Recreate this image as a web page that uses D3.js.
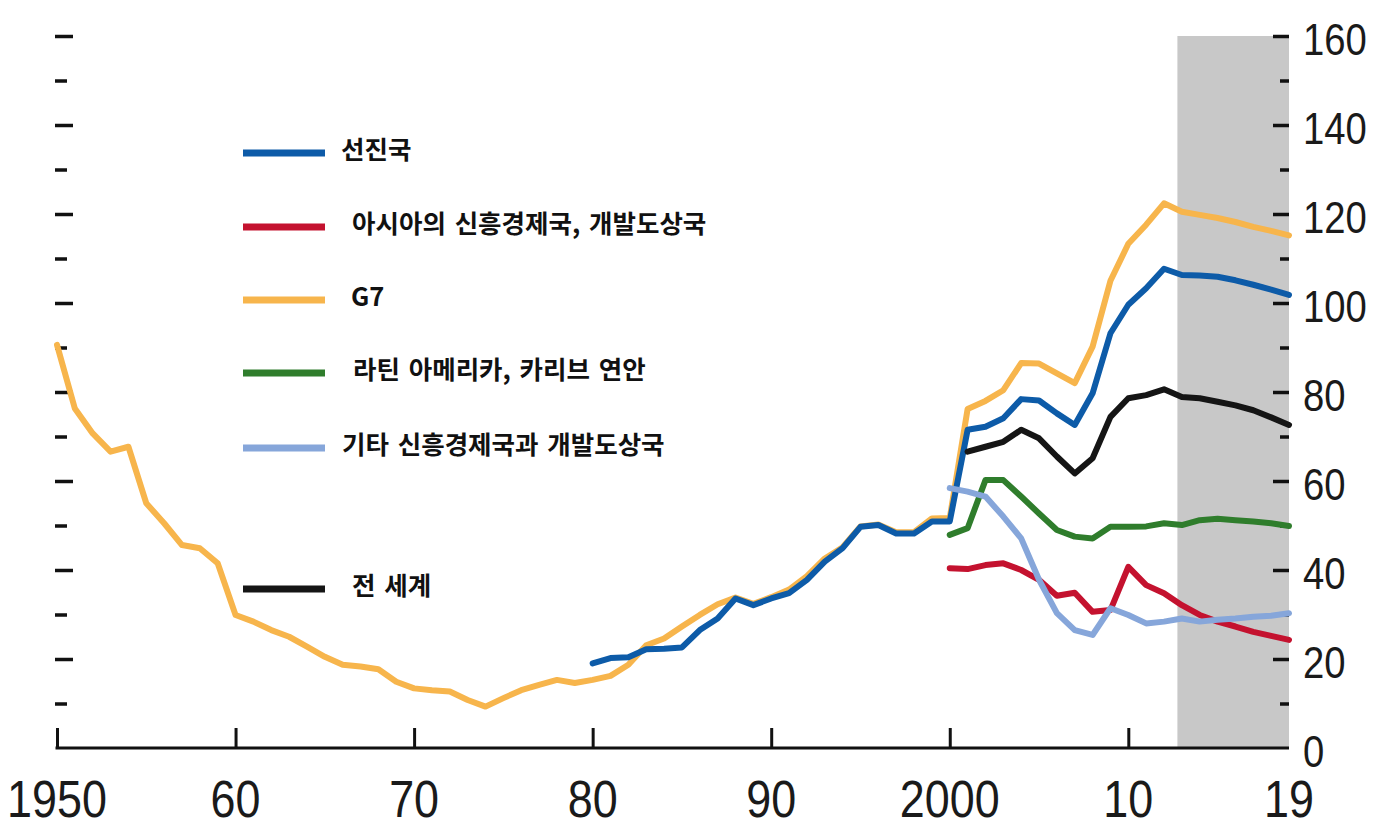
<!DOCTYPE html>
<html>
<head>
<meta charset="utf-8">
<script src="https://cdn.jsdelivr.net/npm/d3@7"></script>
<style>
  html, body { margin: 0; padding: 0; background: #fff; }
  svg { display: block; }
</style>
</head>
<body>
<svg id="chart" width="1387" height="829"></svg>
<script>
// ---------------- DATA ----------------
const g7Start = 1950;
const g7Values = [
  90.6, 76.3, 70.7, 66.6, 67.7, 55.0, 50.5, 45.6, 44.9, 41.5,
  29.9, 28.4, 26.5, 25.0, 22.8, 20.5, 18.7, 18.3, 17.7, 14.9,
  13.4, 13.0, 12.7, 10.8, 9.3, 11.2, 13.0, 14.2, 15.3, 14.6,
  15.3, 16.2, 18.7, 23.1, 24.6, 27.3, 29.9, 32.3, 33.8, 32.4,
  33.9, 35.6, 38.6, 42.6, 45.1, 49.8, 50.2, 48.5, 48.5, 51.6,
  51.7, 76.2, 78.0, 80.4, 86.5, 86.4, 84.2, 82.0, 90.2, 105.0,
  113.3, 117.6, 122.4, 120.5, 119.8, 119.1, 118.2, 117.1, 116.2, 115.2
];
const advStart = 1980;
const advValues = [
  19.0, 20.2, 20.4, 22.2, 22.3, 22.6, 26.5, 29.1, 33.6, 32.1,
  33.6, 34.8, 37.8, 41.9, 44.9, 49.7, 50.1, 48.2, 48.2, 50.9,
  50.9, 71.5, 72.2, 74.1, 78.4, 78.1, 75.2, 72.6, 79.7, 93.2,
  99.6, 103.3, 107.7, 106.3, 106.2, 105.9, 105.1, 104.1, 103.0, 101.8
];
const worldStart = 2001;
const worldValues = [
  66.6, 67.7, 68.8, 71.5, 69.6, 65.5, 61.7, 65.1, 74.4,
  78.6, 79.3, 80.6, 78.9, 78.6, 77.8, 77.0, 75.9, 74.3, 72.6
];
const latamStart = 2000;
const latamValues = [
  47.9, 49.4, 60.2, 60.2, 56.5, 52.7, 49.0, 47.5, 47.1, 49.7,
  49.7, 49.8, 50.5, 50.1, 51.2, 51.5, 51.2, 50.9, 50.5, 49.9
];
const asiaStart = 2000;
const asiaValues = [
  40.4, 40.2, 41.1, 41.5, 40.0, 37.8, 34.2, 34.9, 30.6, 31.0,
  40.7, 36.6, 34.8, 32.1, 29.9, 28.4, 27.3, 26.1, 25.2, 24.3
];
const otherStart = 2000;
const otherValues = [
  58.4, 57.6, 56.5, 52.0, 47.1, 37.8, 30.3, 26.5, 25.4, 31.4,
  29.9, 28.0, 28.4, 29.1, 28.4, 28.8, 29.1, 29.5, 29.7, 30.3
];
const projectionStart = 2012.75;
const projectionEnd = 2019;

const xTickValues = [1950, 1960, 1970, 1980, 1990, 2000, 2010, 2019];
const xTickLabels = ["1950", "60", "70", "80", "90", "2000", "10", "19"];
const yTickLabels = [0, 20, 40, 60, 80, 100, 120, 140, 160];

const legendNames = ["선진국", "아시아의 신흥경제국, 개발도상국", "G7", "라틴 아메리카, 카리브 연안", "기타 신흥경제국과 개발도상국", "전 세계"];

// ---------------- STYLE / LAYOUT ----------------
const colors = {
  adv: "#0d5ba8", asia: "#c4122f", g7: "#f7b54c",
  latam: "#2f7d2c", other: "#86a6da", world: "#151515"
};
const plotLeft = 57, plotRight = 1289, plotTop = 36, plotBottom = 748;
const numFont = "'Liberation Sans', Arial, sans-serif";

const svg = d3.select("#chart");
const x = d3.scaleLinear().domain([1950, 2019]).range([plotLeft, plotRight]);
const y = d3.scaleLinear().domain([0, 160]).range([plotBottom, plotTop]);

const toSeries = (start, vals) => vals.map((v, i) => ({ year: start + i, value: v }));

// projection shading
svg.append("rect")
  .attr("x", x(projectionStart))
  .attr("y", y(160))
  .attr("width", x(projectionEnd) - x(projectionStart))
  .attr("height", y(0) - y(160))
  .attr("fill", "#c8c8c8");

// left ticks (no labels)
const leftAxis = d3.axisRight(y).tickValues(d3.range(10, 161, 10)).tickFormat("").tickSizeOuter(0);
const gl = svg.append("g").attr("transform", `translate(${plotLeft - 2},0)`).call(leftAxis);
gl.select(".domain").remove();
gl.selectAll(".tick line")
  .attr("x2", d => (d % 20 === 0 ? 18 : 12))
  .attr("stroke", "#111").attr("stroke-width", 3.5);

// right ticks + labels
const rightAxis = d3.axisLeft(y).tickValues(d3.range(10, 161, 10)).tickFormat("").tickSizeOuter(0);
const gr = svg.append("g").attr("transform", `translate(${plotRight},0)`).call(rightAxis);
gr.select(".domain").remove();
gr.selectAll(".tick line")
  .attr("x2", d => (d % 20 === 0 ? -16 : -9))
  .attr("stroke", "#111").attr("stroke-width", 3.5);

const rightScaleX = 0.85;
svg.append("g").attr("transform", `translate(1303,0) scale(${rightScaleX},1)`)
  .selectAll("text").data(yTickLabels).join("text")
  .attr("x", 0)
  .attr("y", d => y(d) + 3)
  .attr("dominant-baseline", "central")
  .attr("font-family", numFont)
  .attr("font-size", 45)
  .attr("fill", "#1a1a1a")
  .text(d => d);

// bottom axis
const bottomAxis = d3.axisTop(x).tickValues(xTickValues.slice(0, 7)).tickFormat("").tickSize(20).tickSizeOuter(0);
const gb = svg.append("g").attr("transform", `translate(0,${plotBottom})`).call(bottomAxis);
gb.select(".domain").attr("stroke", "#111").attr("stroke-width", 3).attr("d", `M${plotLeft - 1.5},0H${plotRight}`);
gb.selectAll(".tick line").attr("stroke", "#111").attr("stroke-width", 3);

const bottomScaleX = 0.88;
svg.append("g").attr("transform", `scale(${bottomScaleX},1)`)
  .selectAll("text").data(xTickValues).join("text")
  .attr("x", d => x(d) / bottomScaleX)
  .attr("y", 817)
  .attr("text-anchor", "middle")
  .attr("font-family", numFont)
  .attr("font-size", 51)
  .attr("fill", "#1a1a1a")
  .text((d, i) => xTickLabels[i]);

// lines
const line = d3.line().x(d => x(d.year)).y(d => y(d.value));
const series = [
  { key: "g7", data: toSeries(g7Start, g7Values) },
  { key: "adv", data: toSeries(advStart, advValues) },
  { key: "world", data: toSeries(worldStart, worldValues) },
  { key: "latam", data: toSeries(latamStart, latamValues) },
  { key: "asia", data: toSeries(asiaStart, asiaValues) },
  { key: "other", data: toSeries(otherStart, otherValues) }
];
svg.append("g").selectAll("path").data(series).join("path")
  .attr("d", s => line(s.data))
  .attr("fill", "none")
  .attr("stroke", s => colors[s.key])
  .attr("stroke-width", 6)
  .attr("stroke-linejoin", "round")
  .attr("stroke-linecap", "round");

// legend
const legendKeys = ["adv", "asia", "g7", "latam", "other", "world"];
const legendLineY = [153, 227, 300, 373, 448, 589];
const legendTextX = [341, 352, 351, 353, 342, 352];
const lg = svg.append("g").selectAll("g").data(legendKeys).join("g");
lg.append("line")
  .attr("x1", 243).attr("x2", 325)
  .attr("y1", (d, i) => legendLineY[i]).attr("y2", (d, i) => legendLineY[i])
  .attr("stroke", d => colors[d]).attr("stroke-width", 7);
lg.append("text")
  .attr("x", (d, i) => legendTextX[i])
  .attr("y", (d, i) => legendLineY[i] + 6)
  .attr("font-family", "'Noto Sans CJK KR', 'Noto Sans', sans-serif")
  .attr("font-weight", 700)
  .attr("font-size", 25.5)
  .attr("word-spacing", 3)
  .attr("fill", "#111")
  .text((d, i) => legendNames[i]);
</script>
</body>
</html>
